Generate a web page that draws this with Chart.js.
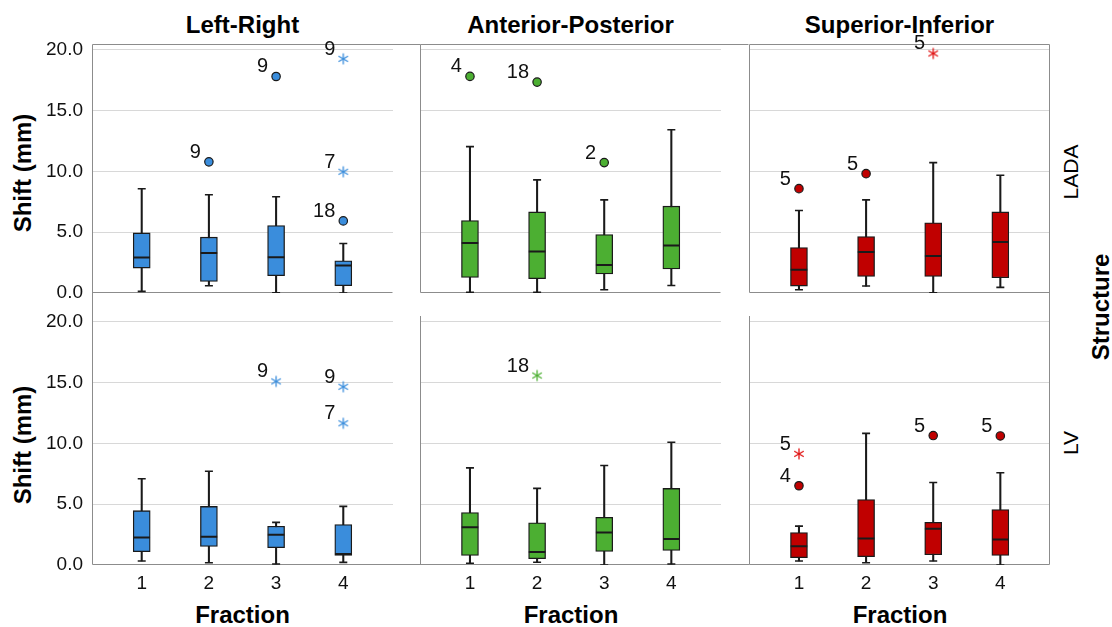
<!DOCTYPE html>
<html>
<head>
<meta charset="utf-8">
<script src="https://cdn.jsdelivr.net/npm/chart.js@4.4.1/dist/chart.umd.min.js"></script>
<style>
html,body{margin:0;padding:0;background:#fff;}
#wrap{position:relative;width:1112px;height:627px;overflow:hidden;font-family:"Liberation Sans",Arial,sans-serif;color:#000;}
canvas{position:absolute;}
.t{position:absolute;white-space:nowrap;line-height:1;transform:translate(-50%,-50%);}
.b{font-weight:bold;font-size:24px;}
.r{transform:translate(-50%,-50%) rotate(-90deg);}
.s{font-size:21px;}
</style>
</head>
<body>
<div id="wrap">
  <div class="t b" style="left:242.5px;top:25px">Left-Right</div>
  <div class="t b" style="left:570.5px;top:25px">Anterior-Posterior</div>
  <div class="t b" style="left:899.5px;top:25px">Superior-Inferior</div>
  <div class="t b r" style="left:23px;top:173px">Shift (mm)</div>
  <div class="t b r" style="left:23px;top:445px">Shift (mm)</div>
  <div class="t b" style="left:242.5px;top:615px">Fraction</div>
  <div class="t b" style="left:571px;top:615px">Fraction</div>
  <div class="t b" style="left:900px;top:615px">Fraction</div>
  <div class="t s r" style="left:1070px;top:172px">LADA</div>
  <div class="t s r" style="left:1070px;top:443px">LV</div>
  <div class="t b r" style="left:1101px;top:307px">Structure</div>
  <canvas id="c00"></canvas><canvas id="c01"></canvas><canvas id="c02"></canvas>
  <canvas id="c10"></canvas><canvas id="c11"></canvas><canvas id="c12"></canvas>
</div>
<script>
// ---------- data ----------
const fractions = [1, 2, 3, 4];
const yTicks = [0, 5, 10, 15, 20];
const directions = ['Left-Right', 'Anterior-Posterior', 'Superior-Inferior'];
const structures = ['LADA', 'LV'];

// box statistics per fraction: [min, q1, median, q3, max]
const lrLada = [[0.13, 2.05, 2.92, 4.94, 8.57], [0.60, 0.95, 3.30, 4.59, 8.08], [0.02, 1.42, 2.95, 5.54, 7.92], [0.00, 0.60, 2.26, 2.65, 4.07]];
const apLada = [[0.05, 1.28, 4.10, 5.95, 12.02], [0.05, 1.17, 3.41, 6.66, 9.29], [0.27, 1.56, 2.30, 4.80, 7.65], [0.62, 1.97, 3.90, 7.13, 13.41]];
const siLada = [[0.27, 0.57, 1.91, 3.74, 6.77], [0.57, 1.36, 3.36, 4.64, 7.65], [0.02, 1.36, 3.03, 5.76, 10.71], [0.46, 1.25, 4.18, 6.66, 9.67]];
const lrLv = [[0.33, 1.09, 2.26, 4.47, 7.09], [0.19, 1.52, 2.32, 4.82, 7.71], [0.08, 1.42, 2.48, 3.19, 3.51], [0.22, 0.79, 0.90, 3.32, 4.82]];
const apLv = [[0.14, 0.79, 3.11, 4.30, 7.98], [0.22, 0.52, 1.06, 3.46, 6.29], [0.00, 1.12, 2.67, 3.92, 8.17], [0.08, 1.20, 2.13, 6.29, 10.08]];
const siLv = [[0.33, 0.60, 1.55, 2.67, 3.19], [0.19, 0.68, 2.18, 5.37, 10.81], [0.33, 0.84, 2.97, 3.51, 6.78], [0.00, 0.79, 2.10, 4.55, 7.58]];

// outliers: [fraction, value, case label, kind]  kind 'o' = outlier, '*' = extreme
const lrLadaOut = [[2, 10.79, '9', 'o'], [3, 17.81, '9', 'o'], [4, 5.93, '18', 'o'], [4, 9.97, '7', '*'], [4, 19.26, '9', '*']];
const apLadaOut = [[1, 17.79, '4', 'o'], [2, 17.32, '18', 'o'], [3, 10.71, '2', 'o']];
const siLadaOut = [[1, 8.57, '5', 'o'], [2, 9.80, '5', 'o'], [3, 19.67, '5', '*']];
const lrLvOut = [[3, 15.10, '9', '*'], [4, 14.66, '9', '*'], [4, 11.66, '7', '*']];
const apLvOut = [[2, 15.56, '18', '*']];
const siLvOut = [[1, 9.13, '5', '*'], [1, 6.51, '4', 'o'], [3, 10.63, '5', 'o'], [4, 10.60, '5', 'o']];

// ---------- styles ----------
const FONT = '"Liberation Sans", Arial, sans-serif';
const EDGE = '#1a1a1a';
const FRAME = '#8c8c8c';
const GRID = '#d8d8d8';
const fills = ['#3a8ddc', '#4caf32', '#c00000'];
const stars = ['#3a8ddc', '#4caf32', '#e01010'];

const chartLefts = [92, 420, 749];
const chartW = 301;
const chartTops = [44, 316];
const chartH = 249;

// asterisk marker images (6 arms) used as point styles
function asterisk(color) {
  const c = document.createElement('canvas');
  c.width = 14; c.height = 14;
  const g = c.getContext('2d');
  g.strokeStyle = color; g.lineWidth = 1.3; g.lineCap = 'butt';
  [90, 30, 150].forEach(a => {
    const r = a * Math.PI / 180, dx = Math.cos(r) * 5.5, dy = Math.sin(r) * 5.5;
    g.beginPath(); g.moveTo(7 - dx, 7 - dy); g.lineTo(7 + dx, 7 + dy); g.stroke();
  });
  return c;
}
const starImgs = stars.map(asterisk);

// ---------- plugins ----------
const panelFrame = {
  id: 'panelFrame',
  beforeDatasetsDraw(chart, args, o) {
    const { left, right, top, bottom } = chart.chartArea;
    const ctx = chart.ctx;
    const L = Math.round(left) + 0.5, R = Math.round(right) - 0.5;
    const T = Math.round(top) + 0.5, B = Math.round(bottom) - 0.5;
    ctx.save();
    ctx.strokeStyle = o.color;
    ctx.lineWidth = 1;
    ctx.beginPath();
    ctx.moveTo(L, o.top ? T : Math.round(top)); ctx.lineTo(L, B + (o.leftDown || 0));
    if (o.top) { ctx.moveTo(L, T); ctx.lineTo(R + (o.topExt || 0), T); }
    ctx.moveTo(L, B); ctx.lineTo(R + (o.bottomExt || 0), B);
    if (o.right) { ctx.moveTo(R, o.top ? T : Math.round(top)); ctx.lineTo(R, B + (o.rightDown || 0)); }
    ctx.stroke();
    ctx.restore();
  }
};

const caseLabels = {
  id: 'caseLabels',
  afterDatasetsDraw(chart) {
    const ctx = chart.ctx;
    chart.data.datasets.forEach((ds, i) => {
      if (!ds.caseLabels) return;
      const meta = chart.getDatasetMeta(i);
      ctx.save();
      ctx.font = '20px ' + FONT;
      ctx.fillStyle = '#111';
      ctx.textAlign = 'right';
      ctx.textBaseline = 'alphabetic';
      meta.data.forEach((el, j) => ctx.fillText(ds.caseLabels[j], el.x - 8, el.y - 4));
      ctx.restore();
    });
  }
};
Chart.register(panelFrame, caseLabels);

// ---------- build ----------
function datasetsFor(box, out, col) {
  const ds = [];
  ds.push({
    type: 'bar', data: box.map((b, i) => ({ x: fractions[i], y: [b[1], b[3]] })),
    backgroundColor: fills[col], borderColor: EDGE, borderWidth: 1.3, borderSkipped: false,
    barThickness: 17, grouped: false, order: 2
  });
  ds.push({
    type: 'scatter', data: box.map((b, i) => ({ x: fractions[i], y: b[2] })),
    pointStyle: 'line', pointRadius: 8.3, pointHoverRadius: 8.3, pointBorderColor: EDGE, pointBorderWidth: 2, order: 1
  });
  ds.push({
    type: 'bar', data: box.map((b, i) => ({ x: fractions[i], y: [b[0], b[4]] })),
    backgroundColor: EDGE, borderWidth: 0, barThickness: 1.4, grouped: false, order: 4
  });
  const caps = [];
  box.forEach((b, i) => { caps.push({ x: fractions[i], y: b[0] }); caps.push({ x: fractions[i], y: b[4] }); });
  ds.push({
    type: 'scatter', data: caps, pointStyle: 'line', pointRadius: 4, pointHoverRadius: 4,
    pointBorderColor: EDGE, pointBorderWidth: 1.6, order: 3
  });
  const circ = out.filter(o => o[3] === 'o');
  const ext = out.filter(o => o[3] === '*');
  if (circ.length) ds.push({
    type: 'scatter', data: circ.map(o => ({ x: o[0], y: o[1] })), caseLabels: circ.map(o => o[2]),
    pointStyle: 'circle', pointRadius: 4.2, pointHoverRadius: 4.2, pointBackgroundColor: fills[col],
    pointBorderColor: EDGE, pointBorderWidth: 1.2, order: 0
  });
  if (ext.length) ds.push({
    type: 'scatter', data: ext.map(o => ({ x: o[0], y: o[1] })), caseLabels: ext.map(o => o[2]),
    pointStyle: starImgs[col], pointRadius: 6, pointHoverRadius: 6, order: 0
  });
  return ds;
}

function makePanel(row, col, box, out) {
  const canvas = document.getElementById('c' + row + col);
  const padL = col === 0 ? 92 : 10;
  const padR = col === 2 ? 12 : 29;
  const padT = 20;
  const padB = row === 0 ? 24 : 62;
  const w = padL + chartW + padR, h = padT + chartH + padB;
  canvas.width = w; canvas.height = h;
  canvas.style.width = w + 'px'; canvas.style.height = h + 'px';
  canvas.style.left = (chartLefts[col] - padL) + 'px';
  canvas.style.top = (chartTops[row] - padT) + 'px';

  new Chart(canvas, {
    type: 'bar',
    data: { datasets: datasetsFor(box, out, col) },
    options: {
      responsive: false, animation: false, devicePixelRatio: 1, events: [],
      layout: { padding: { left: col === 0 ? 0 : 10, right: padR, top: padT, bottom: row === 0 ? padB : 0 } },
      plugins: {
        legend: { display: false }, tooltip: { enabled: false },
        panelFrame: {
          color: FRAME, top: row === 0,
          topExt: col < 2 ? 28 : 0,
          bottomExt: row === 1 && col < 2 ? 29 : 0,
          leftDown: row === 0 && col === 0 ? 24 : 0,
          right: col === 2, rightDown: row === 0 ? 24 : 0
        }
      },
      scales: {
        x: {
          type: 'linear', min: 0.26, max: 4.74, offset: false,
          display: row === 1,
          afterBuildTicks: s => { s.ticks = fractions.map(v => ({ value: v })); },
          afterFit: s => { s.height = row === 1 ? 62 : 0; },
          grid: { display: false, drawTicks: false, offset: false },
          border: { display: false },
          ticks: { padding: 7, color: '#111', font: { family: FONT, size: 19 }, callback: v => String(v) }
        },
        y: {
          type: 'linear', min: 0, max: 20.45,
          afterBuildTicks: s => { s.ticks = yTicks.map(v => ({ value: v })); },
          afterFit: s => { s.width = col === 0 ? 92 : 0; },
          grid: { drawTicks: false, lineWidth: 1, color: c => (c.tick && c.tick.value === 0) ? 'rgba(0,0,0,0)' : GRID },
          border: { display: false },
          ticks: {
            display: col === 0, padding: 9, color: '#111',
            font: { family: FONT, size: 19 }, callback: v => Number(v).toFixed(1)
          }
        }
      }
    }
  });
}

makePanel(0, 0, lrLada, lrLadaOut);
makePanel(0, 1, apLada, apLadaOut);
makePanel(0, 2, siLada, siLadaOut);
makePanel(1, 0, lrLv, lrLvOut);
makePanel(1, 1, apLv, apLvOut);
makePanel(1, 2, siLv, siLvOut);
</script>
</body>
</html>
